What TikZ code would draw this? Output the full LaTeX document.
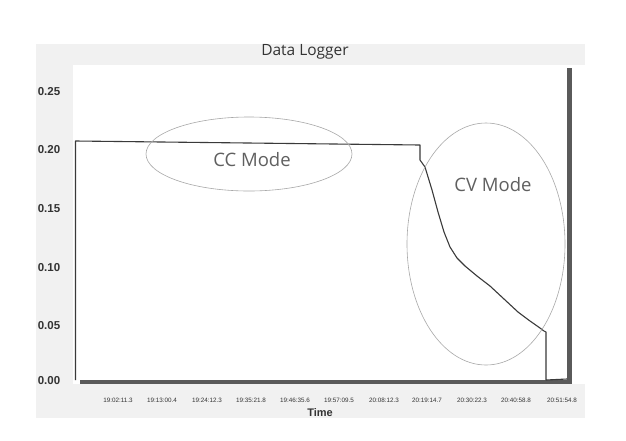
\documentclass[tikz,border=0pt]{standalone}
\usepackage{fontspec}
\setmainfont{Open Sans}
\newfontfamily\arialf{Liberation Sans}
\usetikzlibrary{shapes.geometric}
\definecolor{bgframe}{HTML}{F1F1F1}
\definecolor{axisgray}{HTML}{5A5A5A}
\definecolor{curvegray}{HTML}{3A3A3A}
\definecolor{ellgray}{HTML}{A8A8A8}
\definecolor{modetext}{HTML}{606060}
\definecolor{titletext}{HTML}{333333}
\tikzset{
  ylab/.style={font=\arialf\bfseries\fontsize{11.5}{12}\selectfont, text=titletext, inner sep=0pt},
  tlab/.style={font=\arialf\fontsize{6.3}{7}\selectfont, text=titletext, inner sep=0pt},
  modelab/.style={font=\fontsize{18.5}{20}\selectfont, text=modetext, inner sep=0pt},
  modeell/.style={ellipse, draw=ellgray, line width=0.6pt, inner sep=0pt},
  curve/.style={draw=curvegray, line width=1.1pt, line join=round},
  thickaxis/.style={draw=axisgray, line width=4pt},
}
\begin{document}
\begin{tikzpicture}[x=1pt,y=-1pt]
\useasboundingbox (0,0) rectangle (626,440);
\fill[white] (0,0) rectangle (626,440);
\fill[bgframe] (36,44) rectangle (585,418);
\fill[white] (73,65) rectangle (585,384);

% title
\node[font=\fontsize{15.5}{17}\selectfont, text=titletext, inner sep=0pt] (title) at (305,52) {Data Logger};

% y labels
\node[ylab] (y25) at (49,92) {0.25};
\node[ylab] (y20) at (49,150) {0.20};
\node[ylab] (y15) at (49,209) {0.15};
\node[ylab] (y10) at (49,268) {0.10};
\node[ylab] (y05) at (49,326) {0.05};
\node[ylab] (y00) at (49,381) {0.00};

% axes
\coordinate (bl) at (80,382);
\coordinate (br) at (572,382);
\coordinate (rt) at (569.5,68);
\coordinate (rb) at (569.5,384);
\draw[thickaxis] (bl) -- (br);
\draw[draw=axisgray, line width=4.5pt] (rt) -- (rb);

% time labels
\node[tlab] (t1) at (118,400) {19:02:11.3};
\node[tlab] (t2) at (162,400) {19:13:00.4};
\node[tlab] (t3) at (207,400) {19:24:12.3};
\node[tlab] (t4) at (251,400) {19:35:21.8};
\node[tlab] (t5) at (295,400) {19:46:35.6};
\node[tlab] (t6) at (339,400) {19:57:09.5};
\node[tlab] (t7) at (384,400) {20:08:12.3};
\node[tlab] (t8) at (427,400) {20:19:14.7};
\node[tlab] (t9) at (472,400) {20:30:22.3};
\node[tlab] (t10) at (516,400) {20:40:58.8};
\node[tlab] (t11) at (562,400) {20:51:54.8};
\node[font=\arialf\bfseries\fontsize{11}{12}\selectfont, text=titletext, inner sep=0pt] (timelab) at (320,413) {Time};

% data curve
\draw[curve] (75.5,380) -- (75.5,141) -- (420,145) -- (420,160) -- (425,167)
  -- (432,190) -- (438,212) -- (444,232) -- (450,247) -- (457,258) -- (465,266)
  -- (477,276) -- (490,286) -- (504,299) -- (518,312) -- (530,321) -- (540,328)
  -- (544,331) -- (546,332) -- (546,380) -- (567,379);
\draw[draw=curvegray, line width=0.8pt] (75.5,380) -- (75.5,141);

% mode ellipses
\node[modeell, minimum width=206pt, minimum height=74pt] (ccell) at (249,154) {};
\node[modeell, minimum width=158pt, minimum height=242pt] (cvell) at (486,244) {};
\node[modelab] (cclab) at (252,160) {CC Mode};
\node[modelab] (cvlab) at (493,185) {CV Mode};
\end{tikzpicture}
\end{document}
